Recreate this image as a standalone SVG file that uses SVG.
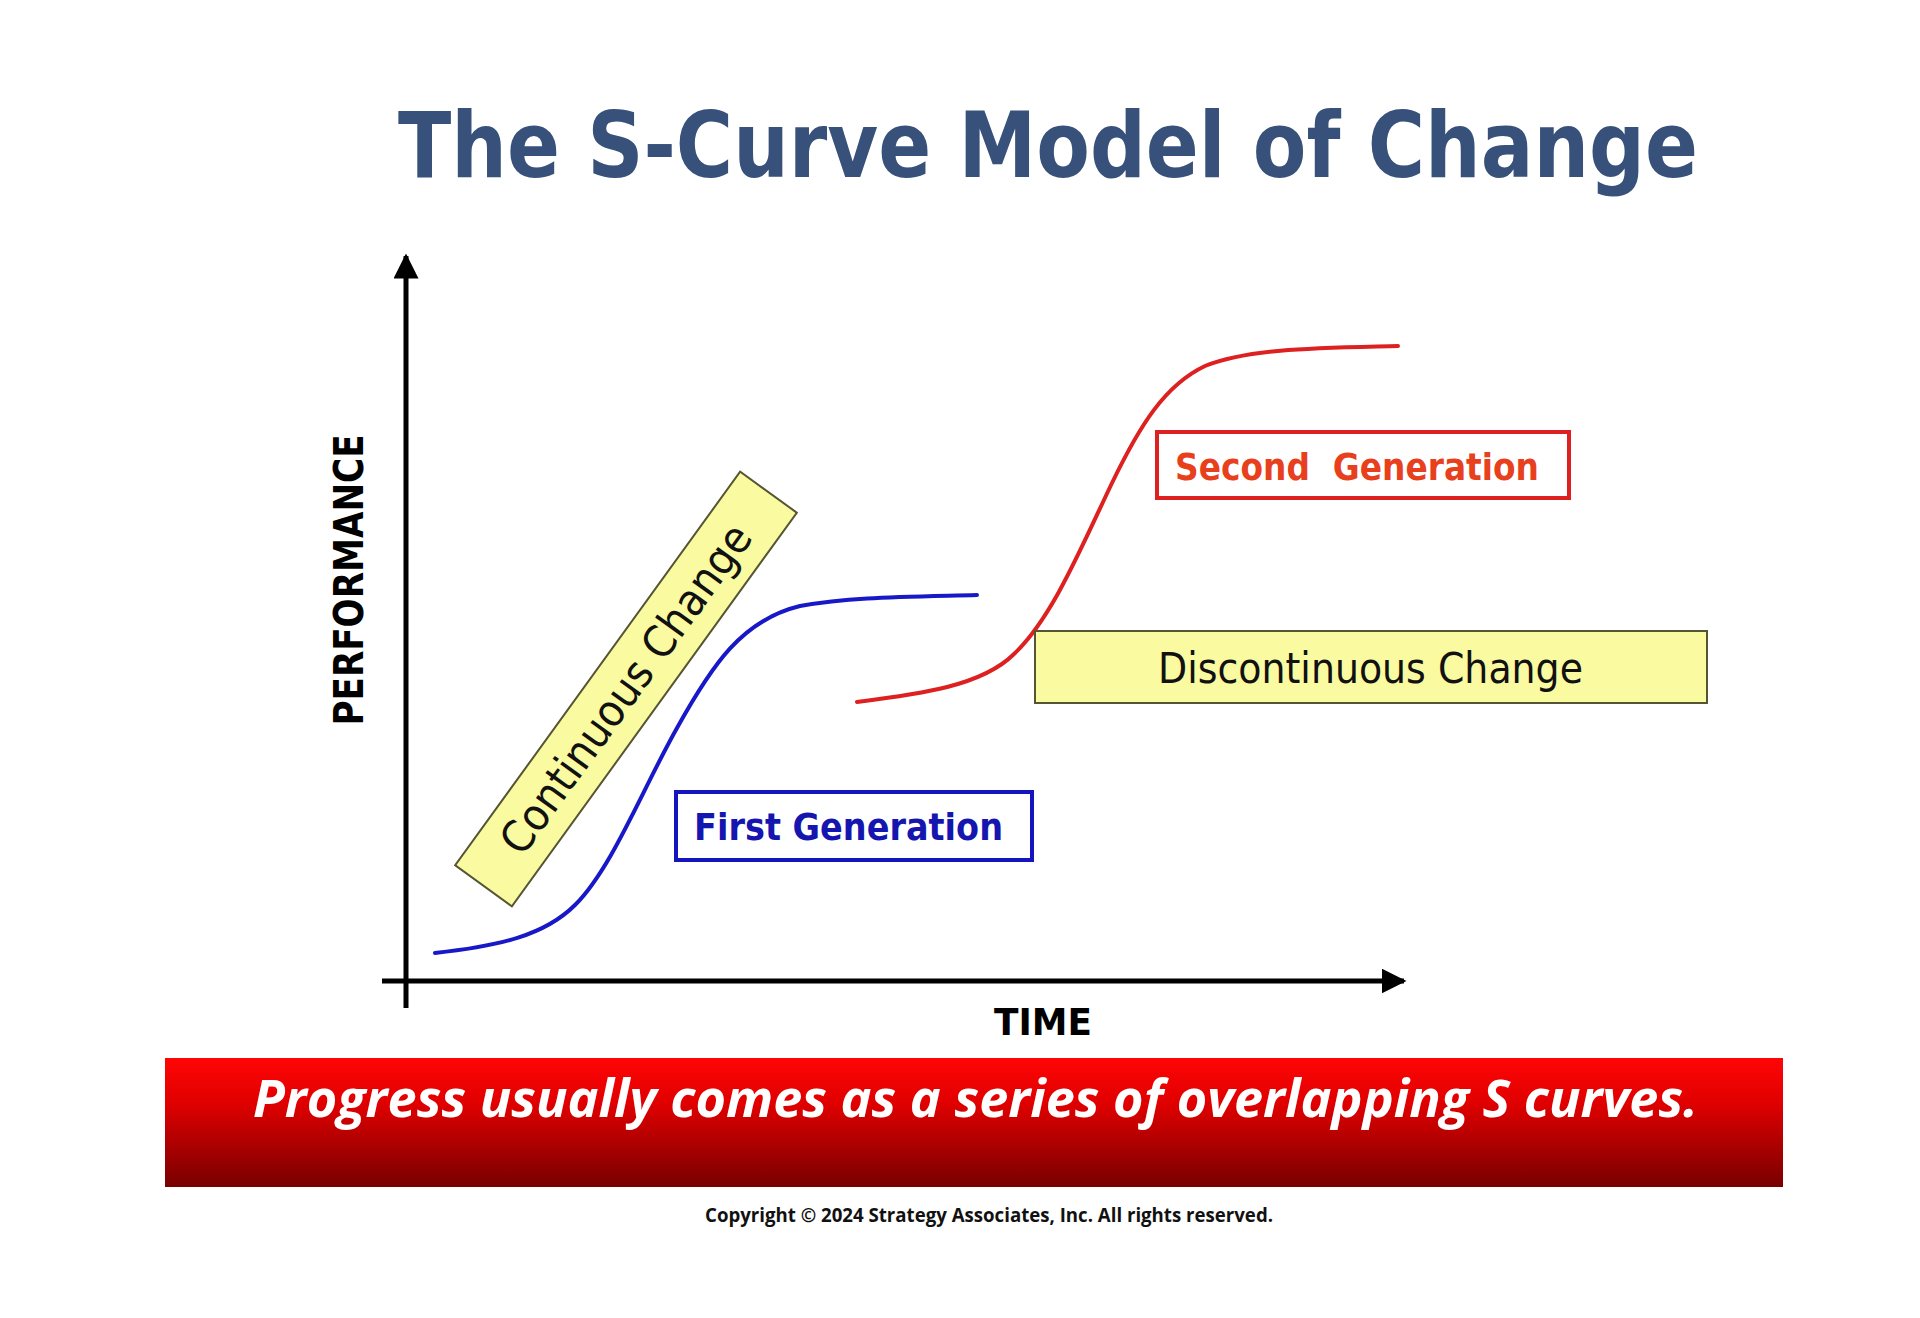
<svg xmlns="http://www.w3.org/2000/svg" width="1920" height="1318" viewBox="0 0 1920 1318">
<style>
.axis{stroke:#000;stroke-width:5;fill:none}
.lbl{font-family:"DejaVu Sans","Liberation Sans",sans-serif;font-weight:bold;fill:#000}
.yellow{fill:#fafaa0;stroke:#555533;stroke-width:2}
.note{font-family:"DejaVu Sans","Liberation Sans",sans-serif;fill:#111}
.curve{fill:none;stroke-width:4;stroke-linecap:round}
</style>
<defs>
<marker id="arr" viewBox="0 0 10 10" refX="9" refY="5" markerWidth="5" markerHeight="5" orient="auto" markerUnits="strokeWidth">
<path d="M0,0 L10,5 L0,10 Z" fill="#000"/>
</marker>
<linearGradient id="banner" x1="0" y1="0" x2="0" y2="1">
<stop offset="0" stop-color="#ff0505"/>
<stop offset="0.35" stop-color="#e00000"/>
<stop offset="1" stop-color="#780000"/>
</linearGradient>
</defs>
<rect width="1920" height="1318" fill="#fff"/>
<g id="title">
<text x="398" y="177" font-family="DejaVu Sans, Liberation Sans, sans-serif" font-weight="bold" font-size="90" fill="#37517a" textLength="1300" lengthAdjust="spacingAndGlyphs">The S-Curve Model of Change</text>
</g>
<g id="connectors">
<line class="axis" x1="406" y1="1008" x2="406" y2="256" marker-end="url(#arr)"/>
<line class="axis" x1="382" y1="981" x2="1404" y2="981" marker-end="url(#arr)"/>
<path id="first-curve" class="curve" stroke="#1818c8" d="M435,953 C500,946 545,935 575,905 C612,868 642,790 677,728 C712,665 742,620 800,606 C850,597 900,597 977,595"/>
<path id="second-curve" class="curve" stroke="#dd2020" d="M857,702 C920,694 982,686 1014,654 C1052,618 1080,550 1112,483 C1140,425 1165,385 1205,366 C1250,348 1320,348 1398,346"/>
</g>
<g id="y-label">
<text class="lbl" x="0" y="0" font-size="40" text-anchor="middle" textLength="291" lengthAdjust="spacingAndGlyphs" transform="translate(363,580) rotate(-90)">PERFORMANCE</text>
</g>
<g id="x-label">
<text class="lbl" x="1043" y="1035" font-size="38" text-anchor="middle" textLength="98" lengthAdjust="spacingAndGlyphs">TIME</text>
</g>
<g id="continuous-change" transform="translate(626,689) rotate(-54.1)">
<rect class="yellow" x="-243" y="-35" width="486" height="70"/>
<text class="note" x="0" y="15" font-size="44" text-anchor="middle" textLength="395" lengthAdjust="spacingAndGlyphs">Continuous Change</text>
</g>
<g id="first-generation">
<rect x="676" y="792" width="356" height="68" fill="#fff" stroke="#1515c0" stroke-width="4"/>
<text x="694" y="840" font-family="DejaVu Sans, Liberation Sans, sans-serif" font-weight="bold" font-size="38" fill="#1515b0" textLength="309" lengthAdjust="spacingAndGlyphs">First Generation</text>
</g>
<g id="second-generation">
<rect x="1157" y="432" width="412" height="66" fill="#fff" stroke="#dd2020" stroke-width="4"/>
<text x="1175" y="480" xml:space="preserve" font-family="DejaVu Sans, Liberation Sans, sans-serif" font-weight="bold" font-size="38" fill="#e8401c" textLength="364" lengthAdjust="spacingAndGlyphs">Second  Generation</text>
</g>
<g id="discontinuous-change">
<rect class="yellow" x="1035" y="631" width="672" height="72"/>
<text class="note" x="1158" y="683" font-size="42" textLength="425" lengthAdjust="spacingAndGlyphs">Discontinuous Change</text>
</g>
<g id="banner-box">
<rect x="165" y="1058" width="1618" height="129" fill="url(#banner)"/>
<text x="253" y="1117" font-family="Open Sans, Liberation Sans, sans-serif" font-weight="bold" font-style="italic" font-size="52" fill="#fff" textLength="1445" lengthAdjust="spacingAndGlyphs">Progress usually comes as a series of overlapping S curves.</text>
</g>
<g id="copyright">
<text x="705" y="1222" font-family="Open Sans, Liberation Sans, sans-serif" font-weight="bold" font-size="19" fill="#111" textLength="568" lengthAdjust="spacingAndGlyphs">Copyright © 2024 Strategy Associates, Inc. All rights reserved.</text>
</g>
</svg>
